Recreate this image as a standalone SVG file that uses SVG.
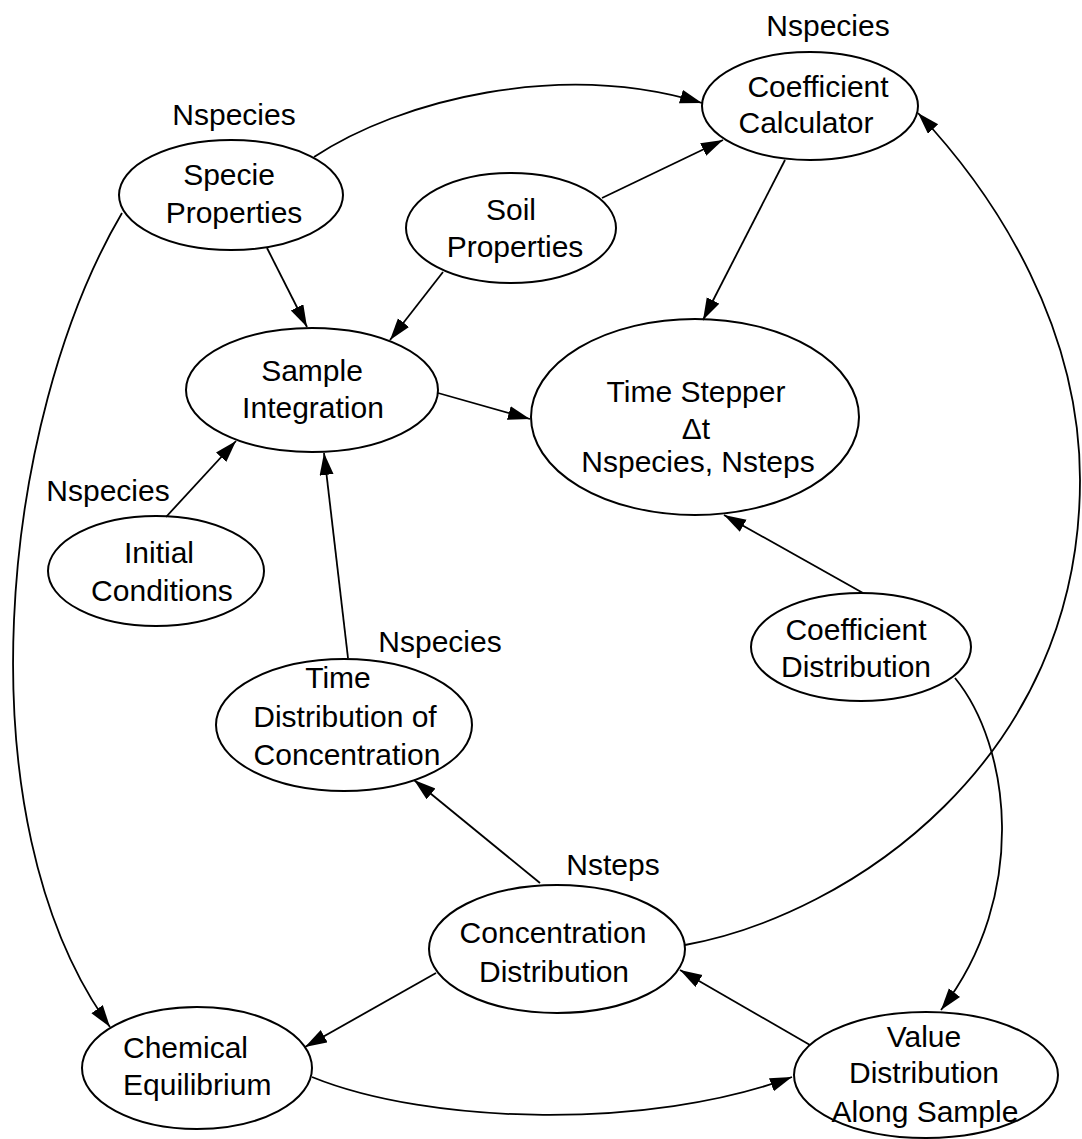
<svg xmlns="http://www.w3.org/2000/svg" width="1082" height="1139" viewBox="0 0 1082 1139">
<style>
  .node ellipse { fill: none; stroke: #000; stroke-width: 2; }
  text { font-family: "Liberation Sans", Arial, Helvetica, sans-serif; font-size: 30px; fill: #000; }
  .c { text-anchor: middle; }
  .edge { fill: none; stroke: #000; stroke-width: 1.8; marker-end: url(#arrow); }
</style>
<defs>
  <marker id="arrow" markerUnits="userSpaceOnUse" markerWidth="24" markerHeight="16" refX="22" refY="7" orient="auto">
    <path d="M0,0 L22,7 L0,14 Z" fill="#000"/>
  </marker>
</defs>
<rect width="1082" height="1139" fill="#fff"/>

<g id="connectors">
  <path class="edge" d="M314,157 C400,100 560,60 702,103"/>
  <path class="edge" d="M122,213 C0,420 -40,820 110,1027"/>
  <path class="edge" d="M685,945 C850,915 1080,760 1080,480 C1080,330 1000,200 918,113"/>
  <path class="edge" d="M955,678 C1010,745 1030,895 941,1010"/>
  <path class="edge" d="M312,1077 C430,1125 650,1130 792,1077"/>
  <line class="edge" x1="267" y1="248" x2="307" y2="327"/>
  <line class="edge" x1="443" y1="272" x2="390" y2="340"/>
  <line class="edge" x1="602" y1="198" x2="723" y2="140"/>
  <line class="edge" x1="785" y1="160" x2="703" y2="320"/>
  <line class="edge" x1="438" y1="393" x2="530" y2="419"/>
  <line class="edge" x1="166" y1="517" x2="236" y2="441"/>
  <line class="edge" x1="348" y1="658" x2="324" y2="453"/>
  <line class="edge" x1="863" y1="593" x2="724" y2="515"/>
  <line class="edge" x1="540" y1="883" x2="414" y2="780"/>
  <line class="edge" x1="436" y1="973" x2="305" y2="1047"/>
  <line class="edge" x1="810" y1="1045" x2="680" y2="970"/>
</g>

<g id="labels">
  <text class="c" x="234" y="125">Nspecies</text>
  <text class="c" x="828" y="36">Nspecies</text>
  <text class="c" x="108" y="501">Nspecies</text>
  <text class="c" x="440" y="652">Nspecies</text>
  <text class="c" x="613" y="875">Nsteps</text>
</g>

<g id="specie-properties" class="node">
  <ellipse cx="231" cy="195" rx="112" ry="55"/>
  <text class="c" x="229" y="185">Specie</text>
  <text class="c" x="234" y="223">Properties</text>
</g>

<g id="soil-properties" class="node">
  <ellipse cx="511" cy="228" rx="105" ry="55"/>
  <text class="c" x="511" y="220">Soil</text>
  <text class="c" x="515" y="257">Properties</text>
</g>

<g id="coefficient-calculator" class="node">
  <ellipse cx="810" cy="106" rx="108" ry="54"/>
  <text class="c" x="818" y="97">Coefficient</text>
  <text class="c" x="806" y="133">Calculator</text>
</g>

<g id="sample-integration" class="node">
  <ellipse cx="312" cy="390" rx="126" ry="62"/>
  <text class="c" x="312" y="381">Sample</text>
  <text class="c" x="313" y="418">Integration</text>
</g>

<g id="time-stepper" class="node">
  <ellipse cx="695" cy="417" rx="164" ry="98"/>
  <text class="c" x="696" y="402">Time Stepper</text>
  <text class="c" x="696" y="439">Δt</text>
  <text class="c" x="698" y="472">Nspecies, Nsteps</text>
</g>

<g id="initial-conditions" class="node">
  <ellipse cx="156" cy="571" rx="108" ry="55"/>
  <text class="c" x="159" y="563">Initial</text>
  <text class="c" x="162" y="601">Conditions</text>
</g>

<g id="time-distribution" class="node">
  <ellipse cx="344" cy="725" rx="128" ry="66"/>
  <text class="c" x="338" y="688">Time</text>
  <text class="c" x="345" y="727">Distribution of</text>
  <text class="c" x="347" y="765">Concentration</text>
</g>

<g id="coefficient-distribution" class="node">
  <ellipse cx="861" cy="647" rx="110" ry="54"/>
  <text class="c" x="856" y="640">Coefficient</text>
  <text class="c" x="856" y="677">Distribution</text>
</g>

<g id="concentration-distribution" class="node">
  <ellipse cx="557" cy="949" rx="128" ry="64"/>
  <text class="c" x="553" y="943">Concentration</text>
  <text class="c" x="554" y="982">Distribution</text>
</g>

<g id="chemical-equilibrium" class="node">
  <ellipse cx="197" cy="1068" rx="115" ry="61"/>
  <text x="123" y="1058">Chemical</text>
  <text x="123" y="1095">Equilibrium</text>
</g>

<g id="value-distribution" class="node">
  <ellipse cx="926" cy="1075" rx="132" ry="63"/>
  <text class="c" x="924" y="1047">Value</text>
  <text class="c" x="924" y="1083">Distribution</text>
  <text class="c" x="925" y="1122">Along Sample</text>
</g>
</svg>
